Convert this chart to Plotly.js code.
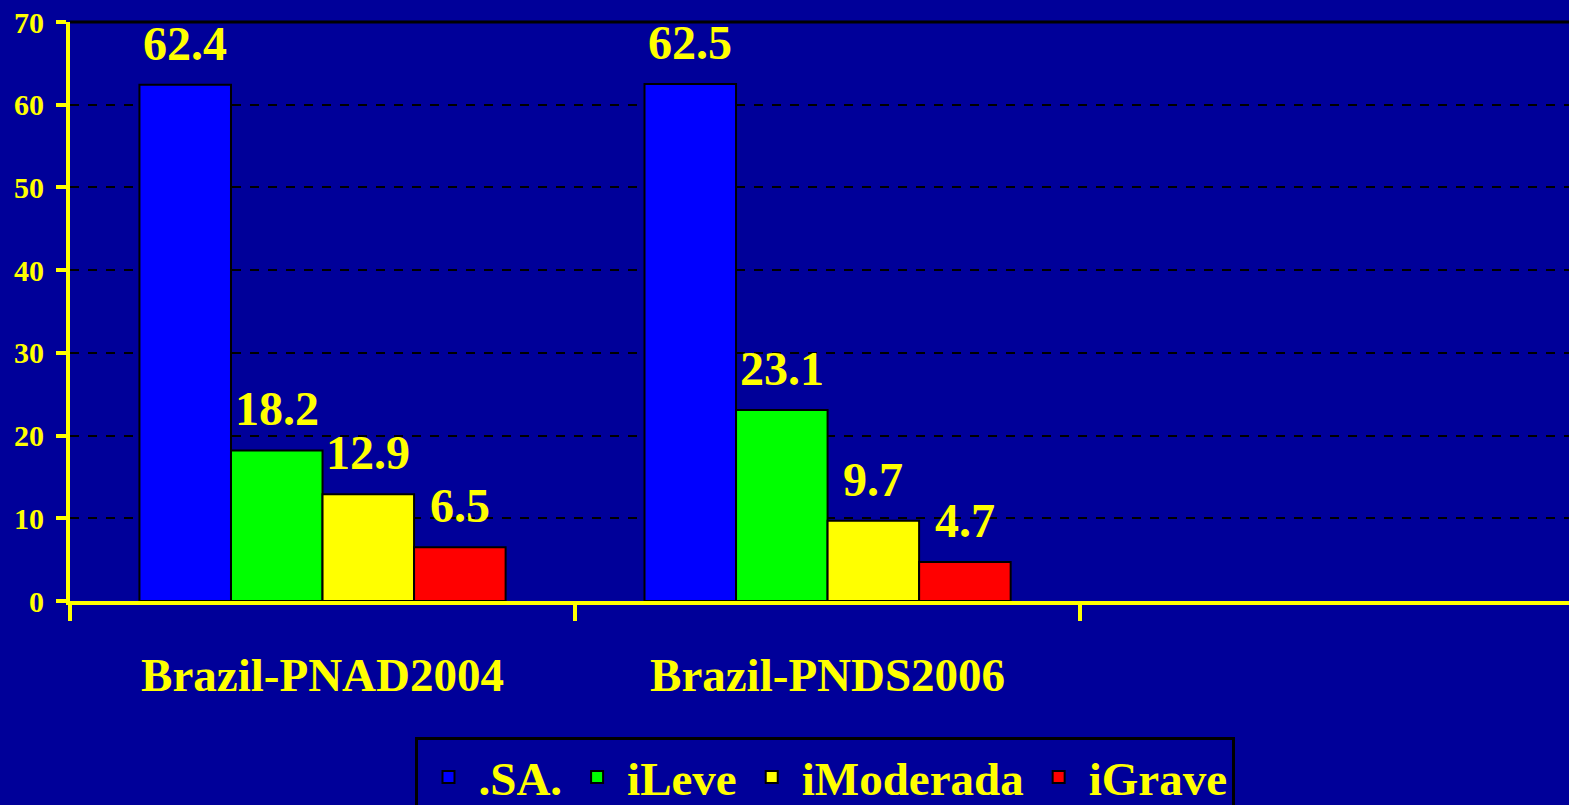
<!DOCTYPE html>
<html>
<head>
<meta charset="utf-8">
<script src="https://cdn.plot.ly/plotly-3.0.1.min.js"></script>
<style>
html,body{margin:0;padding:0;background:#000099;}
#chart{width:1569px;height:805px;}
</style>
</head>
<body>
<div id="chart"></div>
<script>
// ---- data ----
const categories = ['Brazil-PNAD2004', 'Brazil-PNDS2006'];
const seriesNames = ['.SA.', 'iLeve', 'iModerada', 'iGrave'];
const valSA = [62.4, 62.5];
const valLeve = [18.2, 23.1];
const valModerada = [12.9, 9.7];
const valGrave = [6.5, 4.7];
const yTicks = [0, 10, 20, 30, 40, 50, 60, 70];

// ---- style ----
const colors = ['#0000FF', '#00FF00', '#FFFF00', '#FF0000'];
const seriesValues = [valSA, valLeve, valModerada, valGrave];
const bg = '#000099';
const yellow = '#FFFF00';
const fontFam = '"Liberation Serif", "Times New Roman", serif';

const W = 1569, H = 805;
const margin = {l: 70, r: 0, t: 22, b: 204, pad: 0, autoexpand: false};
const xRange = [-0.5, 2.468];
const bargap = 0.275;

const traces = seriesNames.map((name, i) => ({
  type: 'bar',
  name: name,
  x: categories,
  y: seriesValues[i],
  marker: {color: colors[i], line: {color: '#000000', width: 2}},
  hoverinfo: 'none'
}));

// label offsets derived from layout geometry
const plotW = W - margin.l - margin.r;
const catW = plotW / (xRange[1] - xRange[0]);
const barW = catW * (1 - bargap) / seriesNames.length;
const annotations = [];
seriesValues.forEach((vals, i) => {
  vals.forEach((v, j) => {
    annotations.push({
      x: categories[j], y: v, xref: 'x', yref: 'y',
      text: v.toFixed(1), showarrow: false,
      xanchor: 'center', yanchor: 'bottom',
      xshift: (i - (seriesNames.length - 1) / 2) * barW,
      yshift: 13,
      font: {family: fontFam, size: 48, color: yellow, weight: 'bold'}
    });
  });
});

const layout = {
  width: W, height: H,
  margin: margin,
  paper_bgcolor: bg,
  plot_bgcolor: bg,
  barmode: 'group',
  bargap: bargap,
  bargroupgap: 0,
  showlegend: true,
  font: {family: fontFam, color: yellow, weight: 'bold'},
  xaxis: {
    type: 'category',
    range: xRange,
    tickson: 'boundaries',
    ticks: 'outside', ticklen: 16, tickwidth: 4, tickcolor: yellow,
    showline: true, linecolor: yellow, linewidth: 4,
    showgrid: false, zeroline: false,
    ticklabelstandoff: 30,
    tickfont: {family: fontFam, size: 47, color: yellow, weight: 'bold'},
    fixedrange: true
  },
  yaxis: {
    range: [0, 70],
    tickvals: yTicks,
    ticktext: yTicks.map(String),
    ticks: 'outside', ticklen: 10, tickwidth: 4, tickcolor: yellow,
    showline: true, linecolor: yellow, linewidth: 4,
    showgrid: true, gridcolor: '#000000', gridwidth: 2, griddash: 'dash',
    zeroline: false,
    ticklabelstandoff: 6,
    tickfont: {family: fontFam, size: 30, color: yellow, weight: 'bold'},
    fixedrange: true
  },
  legend: {
    orientation: 'h',
    x: 0.504, xanchor: 'center',
    y: -0.235, yanchor: 'top',
    bgcolor: bg,
    bordercolor: '#000000', borderwidth: 3,
    itemwidth: 50,
    font: {family: fontFam, size: 47, color: yellow, weight: 'bold'},
    traceorder: 'normal'
  },
  shapes: [{
    type: 'line', xref: 'paper', yref: 'paper',
    x0: 0, x1: 1, y0: 1, y1: 1,
    line: {color: '#000000', width: 3},
    layer: 'below'
  }],
  annotations: annotations
};

Plotly.newPlot('chart', traces, layout, {staticPlot: true, displayModeBar: false});
</script>
</body>
</html>
